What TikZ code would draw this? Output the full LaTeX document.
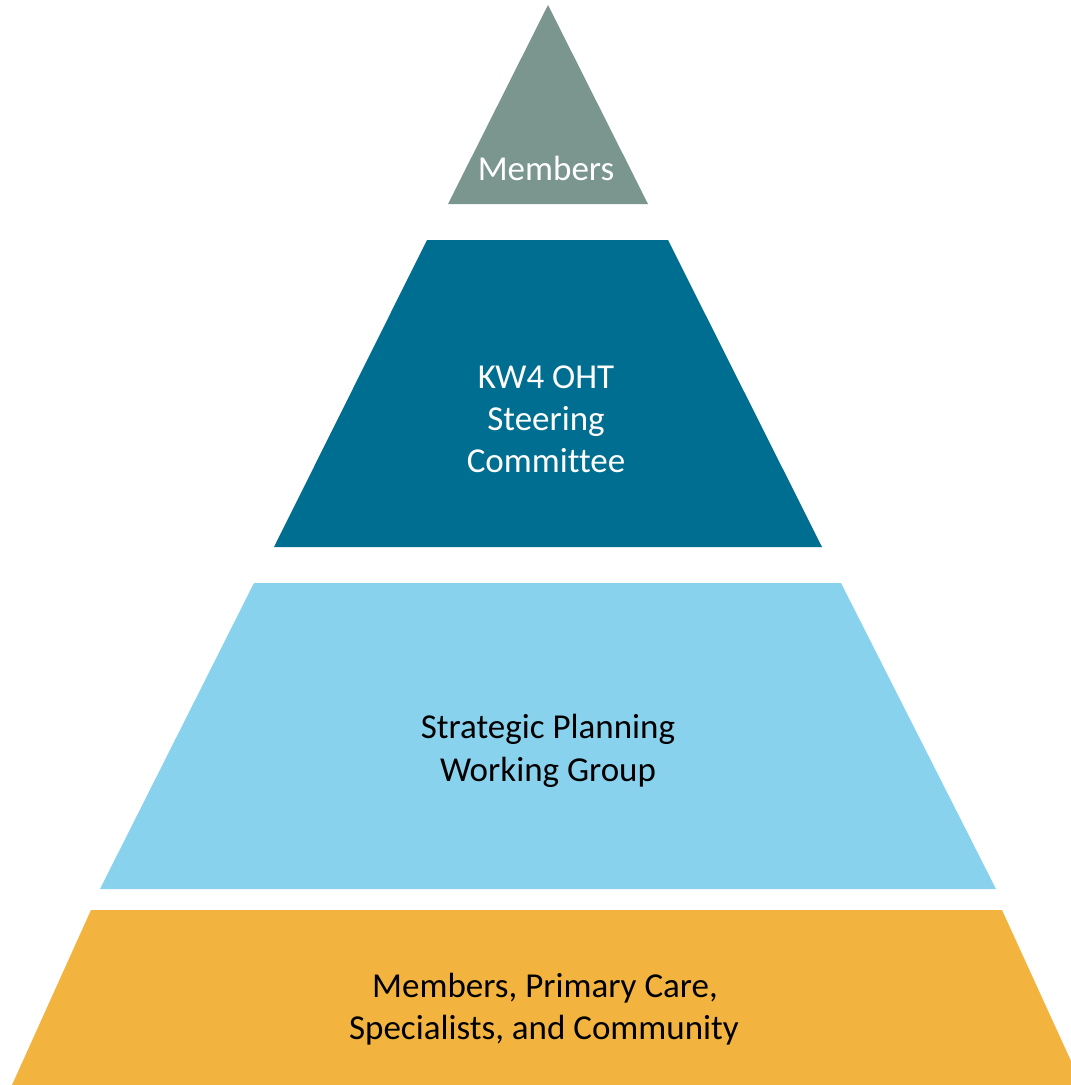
\documentclass[tikz,border=0pt]{standalone}
\usepackage{fontspec}
\setmainfont[Ligatures=NoCommon]{Carlito}
\definecolor{cgray}{HTML}{7B968E}
\definecolor{cteal}{HTML}{006E91}
\definecolor{clight}{HTML}{89D2ED}
\definecolor{corange}{HTML}{F3B43F}
\tikzset{
  lbl/.style={anchor=base, inner sep=0pt, font=\fontsize{35}{42}\selectfont},
}
\begin{document}
\begin{tikzpicture}[x=1pt,y=-1pt]
\useasboundingbox (0,0) rectangle (1071,1085);
\begin{scope}
\clip (0,0) rectangle (1071,1085);
\fill[cgray] (548,5) -- (648,204) -- (448,204) -- cycle;
\fill[cteal] (427,240) -- (668,240) -- (822,547) -- (274,547) -- cycle;
\fill[clight] (254,583) -- (841,583) -- (996,889) -- (100,889) -- cycle;
\fill[corange] (91,910) -- (1002,910) -- (1082,1085) -- (12,1085) -- cycle;
\end{scope}
\node[lbl, text=white] (t1) at (546,180) {Members};
\node[lbl, text=white] (t2a) at (546,388) {KW4 OHT};
\node[lbl, text=white] (t2b) at (546,430) {Steering};
\node[lbl, text=white] (t2c) at (546,472) {Committee};
\node[lbl, text=black] (t3a) at (548,738) {Strategic Planning};
\node[lbl, text=black] (t3b) at (548,781) {Working Group};
\node[lbl, text=black] (t4a) at (545,997) {Members, Primary Care,};
\node[lbl, text=black] (t4b) at (544,1039) {Specialists, and Community};
\end{tikzpicture}
\end{document}
